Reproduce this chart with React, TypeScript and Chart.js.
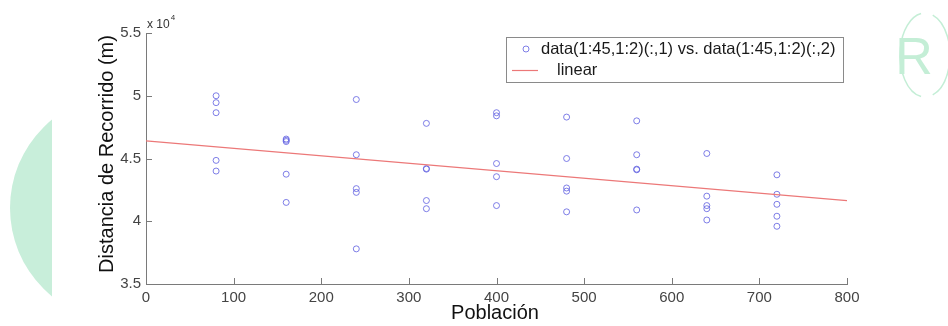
import React, { useEffect, useRef } from "react";
import { Chart, registerables } from "chart.js";

Chart.register(...registerables);

// Población levels (x) and the five measured distances (m) at each level
const poblacion = [80, 160, 240, 320, 400, 480, 560, 640, 720];
const dist80 = [50000, 49450, 48650, 44850, 44000];
const dist160 = [46550, 46450, 46350, 43750, 41500];
const dist240 = [49700, 45300, 42600, 42300, 37800];
const dist320 = [47800, 44200, 44150, 41650, 41000];
const dist400 = [48650, 48400, 44600, 43550, 41250];
const dist480 = [48300, 45000, 42650, 42400, 40750];
const dist560 = [48000, 45300, 44150, 44100, 40900];
const dist640 = [45400, 42000, 41250, 41000, 40100];
const dist720 = [43700, 42150, 41350, 40400, 39600];
const distancias = [dist80, dist160, dist240, dist320, dist400, dist480, dist560, dist640, dist720];

// Linear fit endpoints
const ajusteX = [0, 800];
const ajusteY = [46400, 41650];

const xTicks = [0, 100, 200, 300, 400, 500, 600, 700, 800];
const yTicks = [35000, 40000, 45000, 50000, 55000];

const serieLabel = "data(1:45,1:2)(:,1) vs. data(1:45,1:2)(:,2)";
const lineaLabel = "linear";
const xTitle = "Población";
const yTitle = "Distancia de Recorrido (m)";

const FONT = "'Liberation Sans', Arial, sans-serif";
const POINT_COLOR = "rgba(95,95,225,0.8)";
const LINE_COLOR = "rgb(236,120,120)";
const AXIS_COLOR = "#7a7a7a";
const MINT = "rgb(200,238,218)";

const decor = {
  id: "decor",
  beforeDraw(chart: any) {
    const ctx = chart.ctx;
    ctx.save();
    ctx.fillStyle = "#ffffff";
    ctx.fillRect(0, 0, chart.width, chart.height);
    // big mint circle on the left, cut by the chart picture
    ctx.beginPath();
    ctx.rect(0, 0, 52, chart.height);
    ctx.clip();
    ctx.fillStyle = MINT;
    ctx.beginPath();
    ctx.arc(124, 208, 114, 0, Math.PI * 2);
    ctx.fill();
    ctx.restore();

    // logo top right
    ctx.save();
    ctx.strokeStyle = "rgb(196,238,214)";
    ctx.lineWidth = 1.5;
    ctx.beginPath();
    ctx.ellipse(925, 55, 25, 42, 0, Math.PI * 0.55, Math.PI * 1.45);
    ctx.stroke();
    ctx.beginPath();
    ctx.ellipse(925, 55, 25, 42, 0, -Math.PI * 0.4, Math.PI * 0.4);
    ctx.stroke();
    ctx.fillStyle = "rgb(196,238,214)";
    ctx.font = `300 52px ${FONT}`;
    ctx.textAlign = "center";
    ctx.textBaseline = "alphabetic";
    ctx.fillText("R", 914, 74);
    ctx.restore();
  },
  afterDraw(chart: any) {
    const ctx = chart.ctx;
    const xs = chart.scales.x;
    const ys = chart.scales.y;
    const { left, bottom } = chart.chartArea;
    ctx.save();
    // inward ticks
    ctx.strokeStyle = AXIS_COLOR;
    ctx.lineWidth = 1;
    ctx.beginPath();
    xTicks.forEach((v) => {
      const px = Math.round(xs.getPixelForValue(v)) + 0.5;
      ctx.moveTo(px, bottom);
      ctx.lineTo(px, bottom - 6);
    });
    yTicks.forEach((v) => {
      const py = Math.round(ys.getPixelForValue(v)) + 0.5;
      ctx.moveTo(left, py);
      ctx.lineTo(left + 6, py);
    });
    ctx.stroke();

    // exponent label
    ctx.fillStyle = "#333";
    ctx.textAlign = "left";
    ctx.textBaseline = "alphabetic";
    ctx.font = `12px ${FONT}`;
    ctx.fillText("x 10", left + 1, 28);
    const w = ctx.measureText("x 10").width;
    ctx.font = `8px ${FONT}`;
    ctx.fillText("4", left + 2 + w, 20);

    // legend
    const lx = 506.5, ly = 37.5, lw = 337, lh = 45;
    ctx.fillStyle = "#fff";
    ctx.fillRect(lx, ly, lw, lh);
    ctx.strokeStyle = "#8a8a8a";
    ctx.lineWidth = 1;
    ctx.strokeRect(lx, ly, lw, lh);
    ctx.strokeStyle = POINT_COLOR;
    ctx.beginPath();
    ctx.arc(526, 49, 3, 0, Math.PI * 2);
    ctx.stroke();
    ctx.strokeStyle = LINE_COLOR;
    ctx.lineWidth = 1.2;
    ctx.beginPath();
    ctx.moveTo(512, 70.5);
    ctx.lineTo(538, 70.5);
    ctx.stroke();
    ctx.fillStyle = "#1a1a1a";
    ctx.font = `16.5px ${FONT}`;
    ctx.textBaseline = "middle";
    ctx.fillText(serieLabel, 541, 49);
    ctx.fillText(lineaLabel, 557, 70);

    // axis titles
    ctx.font = `20px ${FONT}`;
    ctx.textAlign = "center";
    ctx.fillStyle = "#111";
    ctx.fillText(xTitle, 495, 313);
    ctx.translate(107, 154);
    ctx.rotate(-Math.PI / 2);
    ctx.fillText(yTitle, 0, 0);
    ctx.restore();
  },
};

export default function App() {
  const ref = useRef<HTMLCanvasElement | null>(null);

  useEffect(() => {
    if (!ref.current) return;
    const points: { x: number; y: number }[] = [];
    poblacion.forEach((p, i) => {
      distancias[i].forEach((d) => points.push({ x: p, y: d }));
    });
    const fit = ajusteX.map((x, i) => ({ x, y: ajusteY[i] }));

    const chart = new Chart(ref.current, {
      type: "scatter",
      data: {
        datasets: [
          {
            type: "line",
            label: lineaLabel,
            data: fit,
            borderColor: LINE_COLOR,
            borderWidth: 1.2,
            pointRadius: 0,
            fill: false,
            showLine: true,
          } as any,
          {
            label: serieLabel,
            data: points,
            pointStyle: "circle",
            pointRadius: 3,
            borderColor: POINT_COLOR,
            backgroundColor: "rgba(0,0,0,0)",
            borderWidth: 1,
          },
        ],
      },
      options: {
        responsive: false,
        animation: false,
        layout: { padding: { left: 0, top: 33, right: 101, bottom: 0 } },
        plugins: { legend: { display: false }, tooltip: { enabled: false } },
        scales: {
          x: {
            type: "linear",
            min: 0,
            max: 800,
            afterBuildTicks: (s: any) => {
              s.ticks = xTicks.map((v) => ({ value: v }));
            },
            afterFit: (s: any) => {
              s.height = 42;
            },
            grid: { display: false, drawTicks: false },
            border: { display: true, color: AXIS_COLOR, width: 1 },
            ticks: {
              font: { family: FONT, size: 15 },
              color: "#444",
              padding: 5,
              maxRotation: 0,
              autoSkip: false,
            },
          },
          y: {
            type: "linear",
            min: 35000,
            max: 55000,
            afterBuildTicks: (s: any) => {
              s.ticks = yTicks.map((v) => ({ value: v }));
            },
            afterFit: (s: any) => {
              s.width = 146;
            },
            grid: { display: false, drawTicks: false },
            border: { display: true, color: AXIS_COLOR, width: 1 },
            ticks: {
              font: { family: FONT, size: 15 },
              color: "#444",
              padding: 5,
              autoSkip: false,
              callback: (v: any) => String(Number(v) / 10000),
            },
          },
        },
      },
      plugins: [decor],
    });
    return () => chart.destroy();
  }, []);

  return (
    <div style={{ position: "absolute", left: 0, top: 0, width: 948, height: 326, background: "#fff" }}>
      <canvas ref={ref} width={948} height={326} style={{ display: "block", width: 948, height: 326 }} />
    </div>
  );
}
